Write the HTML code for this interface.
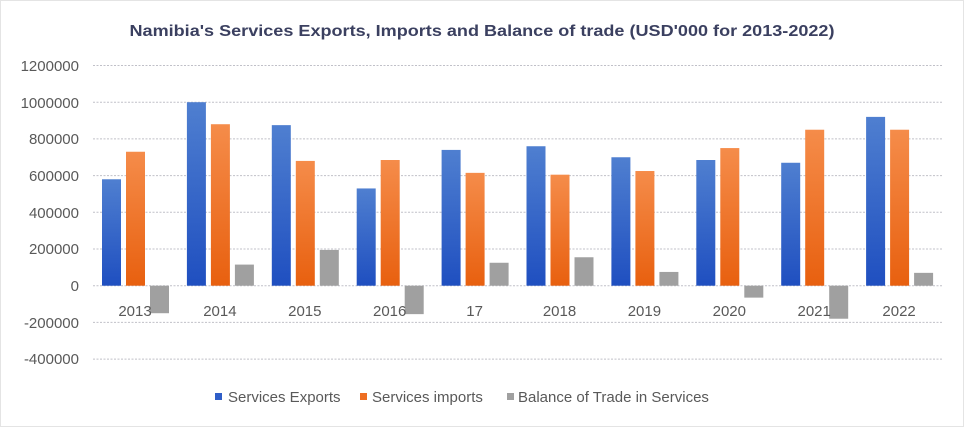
<!DOCTYPE html>
<html><head><meta charset="utf-8"><style>
html,body{margin:0;padding:0;background:#fff}
svg{display:block}
text{font-family:"Liberation Sans",sans-serif}
</style></head><body>
<svg width="964" height="427" viewBox="0 0 964 427" xmlns="http://www.w3.org/2000/svg">
<defs>
<linearGradient id="gb" x1="0" y1="0" x2="0" y2="1"><stop offset="0" stop-color="#4f7fd0"/><stop offset="1" stop-color="#1f4fc0"/></linearGradient>
<linearGradient id="go" x1="0" y1="0" x2="0" y2="1"><stop offset="0" stop-color="#f58c4a"/><stop offset="1" stop-color="#e8600f"/></linearGradient>
</defs>
<rect x="0.5" y="0.5" width="963" height="426" fill="#fff" stroke="#c8c8c8" stroke-dasharray="1,1"/>
<text x="482" y="36" text-anchor="middle" font-size="16" font-weight="bold" fill="#3b4060" textLength="705" lengthAdjust="spacingAndGlyphs">Namibia's  Services Exports, Imports and Balance of trade (USD'000 for 2013-2022)</text>
<g id="grid" stroke="#c0c0c8" stroke-dasharray="2,1.5" stroke-width="1">
<line x1="93" x2="942" y1="65.5" y2="65.5"/>
<line x1="93" x2="942" y1="102.2" y2="102.2"/>
<line x1="93" x2="942" y1="138.9" y2="138.9"/>
<line x1="93" x2="942" y1="175.6" y2="175.6"/>
<line x1="93" x2="942" y1="212.3" y2="212.3"/>
<line x1="93" x2="942" y1="249" y2="249"/>
<line x1="93" x2="942" y1="285.7" y2="285.7"/>
<line x1="93" x2="942" y1="322.4" y2="322.4"/>
<line x1="93" x2="942" y1="359.1" y2="359.1"/>
</g>
<g font-size="15" fill="#595959" text-anchor="end">
<text x="79" y="71">1200000</text>
<text x="79" y="108">1000000</text>
<text x="79" y="144">800000</text>
<text x="79" y="181">600000</text>
<text x="79" y="218">400000</text>
<text x="79" y="254">200000</text>
<text x="79" y="291">0</text>
<text x="79" y="328">-200000</text>
<text x="79" y="364">-400000</text>
</g>
<g id="bars"></g>
<g font-size="15" fill="#595959" text-anchor="middle" id="xl"></g>
<g font-size="15" fill="#595959">
<rect x="215" y="393" width="7" height="7" fill="#2f5ec8"/>
<text x="228" y="402">Services Exports</text>
<rect x="360" y="393" width="7" height="7" fill="#ee6e22"/>
<text x="372" y="402">Services imports</text>
<rect x="507" y="393" width="7" height="7" fill="#a0a0a0"/>
<text x="518" y="402">Balance of Trade in Services</text>
</g>
<script>
var d=[[580,730,-150],[1000,880,115],[875,680,195],[530,685,-155],[740,615,125],[760,605,155],[700,625,75],[685,750,-65],[670,850,-180],[920,850,70]];
var L=["2013","2014","2015","2016","17","2018","2019","2020","2021","2022"];
var z=285.7,s=36.7/200,ns="http://www.w3.org/2000/svg",b=document.getElementById("bars"),xl=document.getElementById("xl");
function r(x,v,f){var e=document.createElementNS(ns,"rect");var h=Math.abs(v)*s;e.setAttribute("x",x);e.setAttribute("width",19);e.setAttribute("y",v>=0?z-h:z);e.setAttribute("height",h);e.setAttribute("fill",f);b.appendChild(e);}
for(var i=0;i<10;i++){var x=102+84.9*i;
var t=document.createElementNS(ns,"text");t.setAttribute("x",x+33);t.setAttribute("y",316);t.textContent=L[i];xl.appendChild(t);}
for(var i=0;i<10;i++){var x=102+84.9*i;r(x,d[i][0],"url(#gb)");r(x+24,d[i][1],"url(#go)");r(x+48,d[i][2],"#a0a0a0");}
</script>
</svg>
</body></html>
